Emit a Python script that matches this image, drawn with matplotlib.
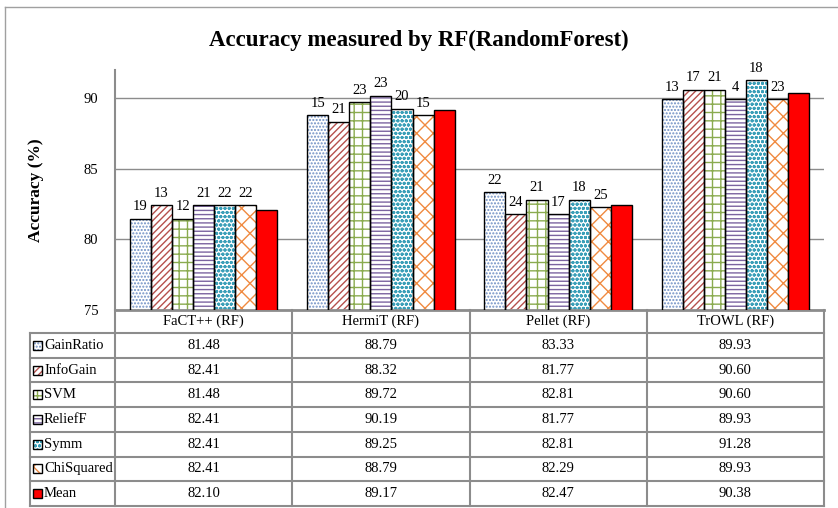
import matplotlib
matplotlib.use("Agg")
import matplotlib.pyplot as plt
from matplotlib.patches import Rectangle
from matplotlib.lines import Line2D
import numpy as np

plt.rcParams['font.family'] = ['Liberation Serif', 'DejaVu Serif']
plt.rcParams['hatch.linewidth'] = 1.0

reasoners = ['FaCT++ (RF)', 'HermiT (RF)', 'Pellet (RF)', 'TrOWL (RF)']
methods = ['GainRatio', 'InfoGain', 'SVM', 'ReliefF', 'Symm', 'ChiSquared', 'Mean']

gain_ratio = [81.48, 88.79, 83.33, 89.93]
info_gain = [82.41, 88.32, 81.77, 90.60]
svm = [81.48, 89.72, 82.81, 90.60]
relieff = [82.41, 90.19, 81.77, 89.93]
symm = [82.41, 89.25, 82.81, 91.28]
chi_squared = [82.41, 88.79, 82.29, 89.93]
mean = [82.10, 89.17, 82.47, 90.38]

# numbers written above the bars (Mean has none)
cnt_gain_ratio = [19, 15, 22, 13]
cnt_info_gain = [13, 21, 24, 17]
cnt_svm = [12, 23, 21, 21]
cnt_relieff = [21, 23, 17, 4]
cnt_symm = [22, 20, 18, 18]
cnt_chi_squared = [22, 15, 25, 23]

series = [gain_ratio, info_gain, svm, relieff, symm, chi_squared, mean]
counts = [cnt_gain_ratio, cnt_info_gain, cnt_svm, cnt_relieff, cnt_symm, cnt_chi_squared, None]

# (hatch, hatch colour) per method, None = solid red
styles = [('.....', '#6f8fc4'), ('/////', '#b5504d'), ('++', '#8aab4f'),
          ('----', '#7b64a0'), ('oooo', '#3a9fb8'), ('xx', '#f08a40'), (None, 'red')]

W, H = 838, 508
def fx(px):
    return px / W
def fy(py):
    return 1 - py / H

fig = plt.figure(figsize=(W / 100, H / 100), dpi=100)
ax_l, ax_r, ax_t, ax_b = 115, 824, 70, 310
ax = fig.add_axes([fx(ax_l), fy(ax_b), fx(ax_r - ax_l), (ax_b - ax_t) / H])

x = np.arange(len(reasoners))
width = 0.119
for i, vals in enumerate(series):
    pos = x + (i - 3) * width
    hatch, col = styles[i]
    if hatch:
        ax.bar(pos, vals, width, color='white', edgecolor=col, hatch=hatch, linewidth=0, zorder=2)
        ax.bar(pos, vals, width, fill=False, edgecolor='black', linewidth=1, zorder=3)
    else:
        ax.bar(pos, vals, width, color=col, edgecolor='black', linewidth=1, zorder=3)
    if counts[i]:
        for p, v, c in zip(pos, vals, counts[i]):
            ax.annotate(str(c), (p, v), xytext=(0, 4), textcoords='offset points',
                        ha='center', va='bottom', fontsize=10.5)

ax.set_xlim(-0.5, 3.5)
ax.set_ylim(75, 92)
ax.set_yticks([75, 80, 85, 90])
ax.set_xticks([])
ax.tick_params(axis='y', length=0, pad=12, labelsize=10.5)
ax.yaxis.grid(True, color='#8c8c8c', linewidth=1)
ax.set_axisbelow(True)
for s in ['top', 'right']:
    ax.spines[s].set_visible(False)
ax.spines['left'].set_color('#8c8c8c')
ax.spines['left'].set_linewidth(1.5)
ax.spines['bottom'].set_color('#8c8c8c')
ax.spines['bottom'].set_linewidth(2)

fig.text(fx(419), fy(40), 'Accuracy measured by RF(RandomForest)', ha='center', va='center',
         fontsize=16.5, fontweight='bold')
fig.text(fx(36), fy(190), 'Accuracy (%)', ha='center', va='center', rotation=90,
         fontsize=12.5, fontweight='bold')

# table under the plot
gray = '#8c8c8c'
def hline(y, x0, x1, lw=1.5):
    fig.add_artist(Line2D([fx(x0), fx(x1)], [fy(y), fy(y)], color=gray, lw=lw))
def vline(xp, y0, y1, lw=1.5):
    fig.add_artist(Line2D([fx(xp), fx(xp)], [fy(y0), fy(y1)], color=gray, lw=lw))

lab_l = 30
head_t, head_b = 310, 333
row_h = 24.7
rows_b = head_b + row_h * len(methods)
col_w = (ax_r - ax_l) / len(reasoners)

hline(head_b, lab_l, ax_r)
for k in range(1, len(methods) + 1):
    hline(head_b + row_h * k, lab_l, ax_r)
vline(lab_l, head_b, rows_b)
for k in range(len(reasoners) + 1):
    vline(ax_l + col_w * k, head_t, rows_b)

for j, name in enumerate(reasoners):
    fig.text(fx(ax_l + col_w * (j + 0.5)), fy((head_t + head_b) / 2), name,
             ha='center', va='center', fontsize=10.5)

for i, name in enumerate(methods):
    yc = head_b + row_h * (i + 0.5)
    hatch, col = styles[i]
    sw = 9
    if hatch:
        fig.add_artist(Rectangle((fx(33), fy(yc + sw / 2)), sw / W, sw / H, transform=fig.transFigure,
                                 facecolor='white', edgecolor=col, hatch=hatch, linewidth=0))
        fig.add_artist(Rectangle((fx(33), fy(yc + sw / 2)), sw / W, sw / H, transform=fig.transFigure,
                                 fill=False, edgecolor='black', linewidth=1))
    else:
        fig.add_artist(Rectangle((fx(33), fy(yc + sw / 2)), sw / W, sw / H, transform=fig.transFigure,
                                 facecolor=col, edgecolor='black', linewidth=1))
    fig.text(fx(44), fy(yc), name, ha='left', va='center', fontsize=10.5)
    for j in range(len(reasoners)):
        fig.text(fx(ax_l + col_w * (j + 0.5)), fy(yc), f'{series[i][j]:.2f}',
                 ha='center', va='center', fontsize=10.5)

# outer frame
fig.add_artist(Line2D([fx(5), fx(5)], [fy(7), fy(H)], color='#a0a0a0', lw=1))
fig.add_artist(Line2D([fx(5), fx(W)], [fy(7), fy(7)], color='#a0a0a0', lw=1))

fig.savefig('out.png', dpi=100)
